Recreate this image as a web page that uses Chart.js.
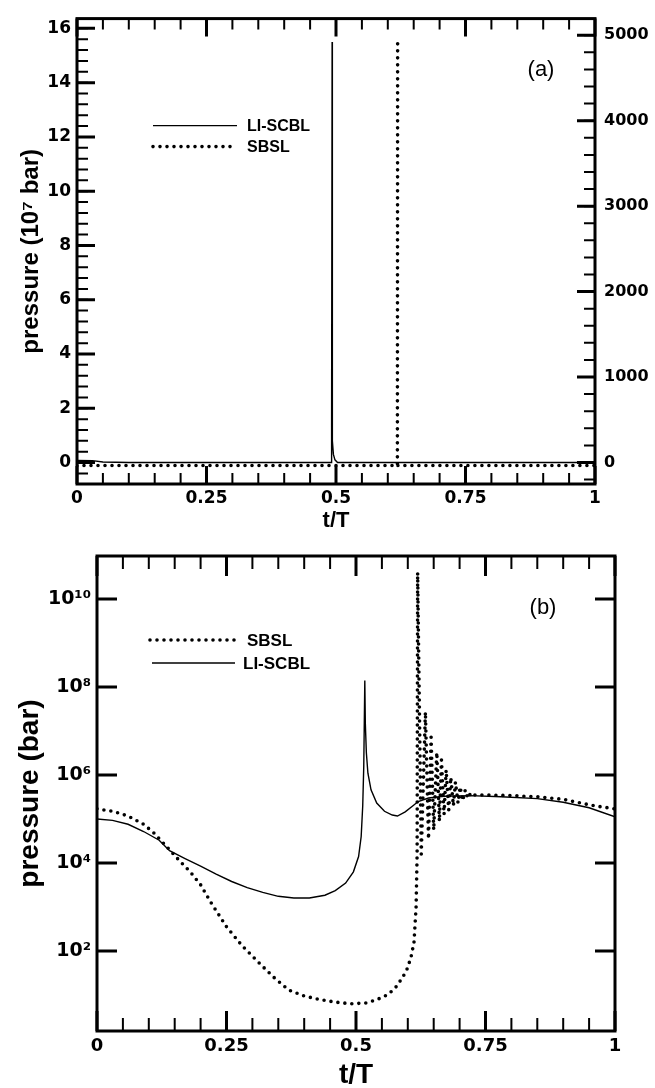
<!DOCTYPE html>
<html>
<head>
<meta charset="utf-8">
<script src="https://cdn.jsdelivr.net/npm/chart.js@4.4.0/dist/chart.umd.min.js"></script>
<style>
  html, body { margin: 0; padding: 0; background: #fff; }
  .panel { position: absolute; left: 0; width: 655px; }
  #panelA { top: 0; height: 530px; }
  #panelB { top: 530px; height: 558px; }
</style>
</head>
<body>
<div class="panel" id="panelA"><canvas id="chartA"></canvas></div>
<div class="panel" id="panelB"><canvas id="chartB"></canvas></div>
<script>
// panel (a): linear pressure, LI-SCBL on left axis (10^7 bar), SBSL on right axis
const tA_li = [0, 0.03, 0.05, 0.1, 0.3, 0.48, 0.4905, 0.491, 0.4915, 0.492, 0.4925, 0.493, 0.495, 0.498, 0.503, 0.6, 0.8, 1.0];
const pA_li = [0.08, 0.07, 0.02, 0, 0, 0, 0, 1.4, 0.6, 1.3, 15.5, 0.8, 0.3, 0.1, 0, 0, 0, 0];
const tA_sb = [0, 0.2, 0.4, 0.6, 0.6185, 0.619, 0.6192, 0.6195, 0.7, 0.85, 1.0];
const pA_sb = [-35, -35, -35, -35, -35, 4920, null, -35, -35, -35, -35];

// panel (b): log pressure (bar)
const tB_li = [0, 0.03, 0.06, 0.09, 0.12, 0.14, 0.17, 0.2, 0.23, 0.26, 0.29, 0.32, 0.35, 0.38, 0.41, 0.44,
  0.46, 0.48, 0.495, 0.505, 0.51, 0.513, 0.515, 0.517, 0.518, 0.52, 0.523, 0.529, 0.54, 0.555, 0.57, 0.58,
  0.595, 0.61, 0.62, 0.64, 0.67, 0.72, 0.78, 0.85, 0.9, 0.95, 1.0];
const pB_li = [1.0e5, 9.3e4, 7.6e4, 5.2e4, 3.3e4, 1.9e4, 1.26e4, 8.5e3, 5.6e3, 3.8e3, 2.75e3, 2.15e3, 1.75e3, 1.6e3, 1.6e3, 1.85e3,
  2.35e3, 3.5e3, 6.3e3, 1.4e4, 4.0e4, 2.0e5, 1.6e6, 1.4e8, 1.5e7, 3.2e6, 1.1e6, 4.6e5, 2.3e5, 1.5e5, 1.23e5, 1.17e5,
  1.45e5, 2.0e5, 2.5e5, 3.0e5, 3.3e5, 3.4e5, 3.2e5, 2.9e5, 2.4e5, 1.8e5, 1.12e5];
const tB_sb = [0, 0.03, 0.06, 0.09, 0.11, 0.14, 0.16, 0.18, 0.2, 0.22, 0.25, 0.28, 0.31, 0.34, 0.37, 0.4,
  0.43, 0.46, 0.49, 0.52, 0.54, 0.56, 0.575, 0.59, 0.6, 0.607, 0.612, 0.616, 0.618, 0.619,
  0.626, 0.634, 0.64, 0.645, 0.65, 0.656, 0.661, 0.665, 0.67, 0.674, 0.679, 0.683, 0.688, 0.692, 0.697,
  0.701, 0.706, 0.711, 0.716, 0.722, 0.73, 0.76, 0.8, 0.85, 0.9, 0.93, 0.96, 1.0];
const pB_sb = [1.7e5, 1.5e5, 1.17e5, 7.6e4, 4.8e4, 2.0e4, 1.1e4, 6.3e3, 3.2e3, 1.26e3, 355, 132, 58, 26, 13, 9.5,
  7.9, 6.9, 6.3, 6.6, 7.8, 10, 14, 25, 42, 80, 160, 1.0e3, 1.6e4, 4.0e10,
  1.6e4, 2.7e7, 3.5e4, 7.2e6, 5.6e4, 3.3e6, 8.9e4, 2.2e6, 1.26e5, 1.3e6, 1.6e5, 8.9e5, 2.0e5, 6.9e5, 2.3e5,
  5.4e5, 2.6e5, 4.6e5, 2.95e5, 4.0e5, 3.5e5, 3.5e5, 3.4e5, 3.2e5, 2.8e5, 2.35e5, 2.0e5, 1.7e5];

// tick values
const xMajor = [0, 0.25, 0.5, 0.75, 1];
const yMajorA = [0, 2, 4, 6, 8, 10, 12, 14, 16];
const yMajorA2 = [0, 1000, 2000, 3000, 4000, 5000];
const yMajorB = [1e2, 1e4, 1e6, 1e8, 1e10];

const steps = (from, to, step) => { const out = []; for (let v = from; v <= to + 1e-9; v += step) out.push(+v.toFixed(6)); return out; };
const pts = (xs, ys) => xs.map((x, i) => ({ x: x, y: ys[i] }));
const sup = { '0': '⁰', '1': '¹', '2': '²', '3': '³', '4': '⁴', '5': '⁵', '6': '⁶', '7': '⁷', '8': '⁸', '9': '⁹' };
const powLabel = v => '10' + String(Math.round(Math.log10(v))).split('').map(c => sup[c]).join('');

const SANS = '"Liberation Sans", Arial, sans-serif';
const TICKFONT = '"DejaVu Sans", sans-serif';

// inside ticks on all four sides + frame
const frameTicks = {
  id: 'frameTicks',
  afterDatasetsDraw(chart, args, o) {
    const { ctx, chartArea: a } = chart;
    ctx.save();
    ctx.strokeStyle = '#000';
    ctx.lineCap = 'butt';
    const xs = chart.scales.x;
    const mark = (list, len, w, vertical, scale, sides) => {
      ctx.lineWidth = w;
      ctx.beginPath();
      list.forEach(v => {
        const p = scale.getPixelForValue(v);
        if (vertical) {
          if (p < a.left - 1 || p > a.right + 1) return;
          ctx.moveTo(p, a.bottom); ctx.lineTo(p, a.bottom - len);
          ctx.moveTo(p, a.top); ctx.lineTo(p, a.top + len);
        } else {
          if (p < a.top + 1 || p > a.bottom - 1) return;
          if (sides.includes('l')) { ctx.moveTo(a.left, p); ctx.lineTo(a.left + len, p); }
          if (sides.includes('r')) { ctx.moveTo(a.right, p); ctx.lineTo(a.right - len, p); }
        }
      });
      ctx.stroke();
    };
    mark(o.xMinor, o.minorLen, 2, true, xs);
    mark(o.xMajor, o.majorLen, 3, true, xs);
    o.yTicks.forEach(t => {
      const s = chart.scales[t.id];
      if (t.minor) mark(t.minor, o.minorLen, 2, false, s, t.sides);
      mark(t.major, o.majorLen, 3, false, s, t.sides);
    });
    ctx.lineWidth = 3;
    ctx.strokeRect(a.left, a.top, a.width, a.height);
    ctx.restore();
  }
};

// legend and panel key drawn inside the plot
const panelKey = {
  id: 'panelKey',
  afterDraw(chart, args, o) {
    const { ctx, chartArea: a } = chart;
    ctx.save();
    ctx.fillStyle = '#000';
    ctx.strokeStyle = '#000';
    o.items.forEach(it => {
      const y = a.top + it.dy;
      ctx.beginPath();
      if (it.dotted) {
        ctx.setLineDash([0, 7]); ctx.lineCap = 'round'; ctx.lineWidth = 3.6;
      } else {
        ctx.setLineDash([]); ctx.lineCap = 'butt'; ctx.lineWidth = 1.4;
      }
      ctx.moveTo(a.left + it.x0, y); ctx.lineTo(a.left + it.x1, y);
      ctx.stroke();
      ctx.setLineDash([]);
      ctx.font = 'bold ' + o.fontSize + 'px ' + SANS;
      ctx.textAlign = 'left'; ctx.textBaseline = 'middle';
      ctx.fillText(it.label, a.left + it.tx, y + 1);
    });
    ctx.font = o.keySize + 'px ' + SANS;
    ctx.textAlign = 'center'; ctx.textBaseline = 'middle';
    ctx.fillText(o.key, a.right - o.keyDx, a.top + o.keyDy);
    ctx.restore();
  }
};

const lineSolid = { borderColor: '#000', borderWidth: 1.4, pointRadius: 0, tension: 0, fill: false };
const lineDots = { borderColor: '#000', borderWidth: 3.6, borderDash: [0, 7], borderCapStyle: 'round', borderJoinStyle: 'round', pointRadius: 0, tension: 0, fill: false, spanGaps: false };
const noGrid = { display: false, drawTicks: false };

new Chart(document.getElementById('chartA'), {
  type: 'line',
  data: {
    datasets: [
      Object.assign({ label: 'LI-SCBL', data: pts(tA_li, pA_li), yAxisID: 'y' }, lineSolid),
      Object.assign({ label: 'SBSL', data: pts(tA_sb, pA_sb), yAxisID: 'y2' }, lineDots)
    ]
  },
  options: {
    responsive: true, maintainAspectRatio: false, animation: false,
    layout: { padding: { top: 8, left: 0, right: 0, bottom: 0 } },
    plugins: {
      legend: { display: false }, tooltip: { enabled: false },
      frameTicks: {
        xMajor: xMajor, xMinor: steps(0, 1, 0.05), majorLen: 18, minorLen: 11,
        yTicks: [
          { id: 'y', major: yMajorA, minor: steps(-0.4, 16.3, 0.4), sides: 'l' },
          { id: 'y2', major: yMajorA2, minor: steps(-200, 5100, 200), sides: 'r' }
        ]
      },
      panelKey: {
        fontSize: 16, keySize: 22, key: '(a)', keyDx: 54, keyDy: 51,
        items: [
          { label: 'LI-SCBL', x0: 76, x1: 160, tx: 170, dy: 107, dotted: false },
          { label: 'SBSL', x0: 76, x1: 160, tx: 170, dy: 128, dotted: true }
        ]
      }
    },
    scales: {
      x: {
        type: 'linear', min: 0, max: 1, position: 'bottom',
        grid: noGrid, border: { display: false },
        afterBuildTicks: s => { s.ticks = xMajor.map(v => ({ value: v })); },
        afterFit: s => { s.height = 46; },
        ticks: { color: '#000', padding: 4, maxRotation: 0, autoSkip: false, font: { family: TICKFONT, size: 17, weight: 'bold' }, callback: v => String(v) },
        title: { display: true, text: 't/T', color: '#000', padding: 0, font: { family: SANS, size: 22, weight: 'bold', lineHeight: 0.8 } }
      },
      y: {
        type: 'linear', position: 'left', min: -0.79, max: 16.36,
        grid: noGrid, border: { display: false },
        afterBuildTicks: s => { s.ticks = yMajorA.map(v => ({ value: v })); },
        afterFit: s => { s.width = 77; },
        ticks: { color: '#000', padding: 6, font: { family: TICKFONT, size: 17, weight: 'bold' }, callback: v => String(v) },
        title: { display: true, text: 'pressure (10⁷ bar)', color: '#000', padding: { top: 19, bottom: 0 }, font: { family: SANS, size: 24, weight: 'bold', lineHeight: 1 } }
      },
      y2: {
        type: 'linear', position: 'right', min: -252, max: 5195,
        grid: noGrid, border: { display: false },
        afterBuildTicks: s => { s.ticks = yMajorA2.map(v => ({ value: v })); },
        afterFit: s => { s.width = 60; },
        ticks: { color: '#000', padding: 9, font: { family: TICKFONT, size: 16, weight: 'bold' }, callback: v => String(v) }
      }
    }
  },
  plugins: [frameTicks, panelKey]
});

new Chart(document.getElementById('chartB'), {
  type: 'line',
  data: {
    datasets: [
      Object.assign({ label: 'SBSL', data: pts(tB_sb, pB_sb) }, lineDots),
      Object.assign({ label: 'LI-SCBL', data: pts(tB_li, pB_li) }, lineSolid)
    ]
  },
  options: {
    responsive: true, maintainAspectRatio: false, animation: false,
    layout: { padding: { top: 26, left: 0, right: 40, bottom: 0 } },
    plugins: {
      legend: { display: false }, tooltip: { enabled: false },
      frameTicks: {
        xMajor: xMajor, xMinor: steps(0, 1, 0.05), majorLen: 20, minorLen: 13,
        yTicks: [
          { id: 'y', major: yMajorB, sides: 'lr' }
        ]
      },
      panelKey: {
        fontSize: 17, keySize: 22, key: '(b)', keyDx: 72, keyDy: 52,
        items: [
          { label: 'SBSL', x0: 53, x1: 140, tx: 150, dy: 84, dotted: true },
          { label: 'LI-SCBL', x0: 55, x1: 138, tx: 146, dy: 107, dotted: false }
        ]
      }
    },
    scales: {
      x: {
        type: 'linear', min: 0, max: 1, position: 'bottom',
        grid: noGrid, border: { display: false },
        afterBuildTicks: s => { s.ticks = xMajor.map(v => ({ value: v })); },
        afterFit: s => { s.height = 57; },
        ticks: { color: '#000', padding: 5, maxRotation: 0, autoSkip: false, font: { family: TICKFONT, size: 18, weight: 'bold' }, callback: v => String(v) },
        title: { display: true, text: 't/T', color: '#000', padding: { top: 0, bottom: 2 }, font: { family: SANS, size: 28, weight: 'bold', lineHeight: 0.8 } }
      },
      y: {
        type: 'logarithmic', position: 'left', min: 1.52, max: 9.5e10,
        grid: noGrid, border: { display: false },
        afterBuildTicks: s => { s.ticks = yMajorB.map(v => ({ value: v })); },
        afterFit: s => { s.width = 97; },
        ticks: { color: '#000', padding: 6, font: { family: TICKFONT, size: 19, weight: 'bold' }, callback: v => powLabel(v) },
        title: { display: true, text: 'pressure (bar)', color: '#000', padding: { top: 16, bottom: 0 }, font: { family: SANS, size: 28, weight: 'bold', lineHeight: 1 } }
      }
    }
  },
  plugins: [frameTicks, panelKey]
});
</script>
</body>
</html>
